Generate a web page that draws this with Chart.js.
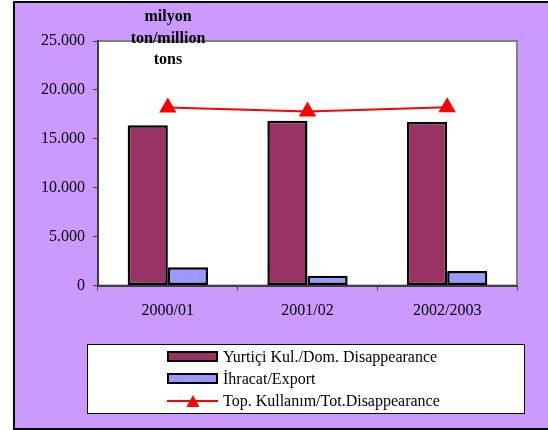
<!DOCTYPE html>
<html>
<head>
<meta charset="utf-8">
<script src="https://cdn.jsdelivr.net/npm/chart.js@4"></script>
<style>
  html, body { margin: 0; background: #fff; overflow: hidden; }
  canvas { display: block; }
</style>
</head>
<body>
<canvas id="myChart" width="548" height="430"></canvas>
<script>
  const labels = ['2000/01', '2001/02', '2002/2003'];
  const domestic = [16380, 16850, 16720];
  const exports = [1860, 1000, 1480];
  const total = [18200, 17800, 18220];
  const seriesNames = [
    'Yurtiçi Kul./Dom. Disappearance',
    'İhracat/Export',
    'Top. Kullanım/Tot.Disappearance'
  ];
  const titleLines = ['milyon', 'ton/million', 'tons'];
  const yTicks = [0, 5000, 10000, 15000, 20000, 25000];

  const FONT = "'Liberation Serif', 'Times New Roman', serif";

  // background, outer frame and plot area frame
  const frame = {
    id: 'frame',
    beforeDraw(chart) {
      const ctx = chart.ctx, a = chart.chartArea;
      ctx.save();
      ctx.fillStyle = '#fff';
      ctx.fillRect(0, 0, chart.width, chart.height);
      ctx.fillStyle = '#CC99FF';
      ctx.fillRect(14, 2, 560, 427);
      ctx.strokeStyle = '#000';
      ctx.lineWidth = 2;
      ctx.strokeRect(14, 2, 560, 427);
      ctx.fillStyle = '#fff';
      ctx.fillRect(a.left, a.top, a.right - a.left, a.bottom - a.top);
      ctx.strokeStyle = '#808080';
      ctx.lineWidth = 2;
      ctx.strokeRect(a.left, a.top, a.right - a.left, a.bottom - a.top);
      ctx.restore();
    }
  };

  // unit title + boxed legend
  const extras = {
    id: 'extras',
    afterDraw(chart) {
      const ctx = chart.ctx;
      ctx.save();
      ctx.fillStyle = '#000';
      ctx.font = 'bold 16px ' + FONT;
      ctx.textAlign = 'center';
      ctx.textBaseline = 'middle';
      titleLines.forEach((t, i) => ctx.fillText(t, 168, 17 + i * 21.5));

      // legend box
      ctx.fillStyle = '#fff';
      ctx.fillRect(87.5, 344.5, 437, 69);
      ctx.strokeStyle = '#000';
      ctx.lineWidth = 1;
      ctx.strokeRect(87.5, 344.5, 437, 69);

      const ds = chart.data.datasets;
      const rows = [356.5, 378.5, 401];
      ctx.font = '16px ' + FONT;
      ctx.textAlign = 'left';
      ds.forEach((d, i) => {
        const y = rows[i];
        if (d.type === 'line') {
          ctx.strokeStyle = d.borderColor;
          ctx.lineWidth = 2;
          ctx.beginPath();
          ctx.moveTo(167, y);
          ctx.lineTo(218, y);
          ctx.stroke();
          ctx.fillStyle = d.borderColor;
          ctx.beginPath();
          ctx.moveTo(193, y - 6);
          ctx.lineTo(199.5, y + 6);
          ctx.lineTo(186.5, y + 6);
          ctx.closePath();
          ctx.fill();
        } else {
          ctx.fillStyle = d.backgroundColor;
          ctx.fillRect(167, y - 5.5, 51, 11);
          ctx.strokeStyle = '#000';
          ctx.lineWidth = 2;
          ctx.strokeRect(168, y - 4.5, 49, 9);
        }
        ctx.fillStyle = '#000';
        ctx.fillText(d.label, 223, y + 1);
      });
      ctx.restore();
    }
  };

  const data = {
    labels: labels,
    datasets: [
      {
        label: seriesNames[0],
        data: domestic,
        backgroundColor: '#993366',
        borderColor: '#000',
        borderWidth: 2.5,
        borderSkipped: false,
        categoryPercentage: 0.575,
        barPercentage: 1,
        order: 1
      },
      {
        label: seriesNames[1],
        data: exports,
        backgroundColor: '#9999FF',
        borderColor: '#000',
        borderWidth: 2.5,
        borderSkipped: false,
        categoryPercentage: 0.575,
        barPercentage: 1,
        order: 1
      },
      {
        type: 'line',
        label: seriesNames[2],
        data: total,
        borderColor: '#FF0000',
        backgroundColor: '#FF0000',
        borderWidth: 2,
        pointStyle: 'triangle',
        pointRadius: 10,
        pointBorderWidth: 0,
        fill: false,
        tension: 0,
        order: 0
      }
    ]
  };

  const config = {
    type: 'bar',
    data: data,
    plugins: [frame, extras],
    options: {
      responsive: false,
      animation: false,
      layout: {
        padding: { left: 18, top: 41, right: 31, bottom: 104.5 }
      },
      plugins: {
        legend: { display: false },
        tooltip: { enabled: false }
      },
      scales: {
        x: {
          afterFit: s => { s.height = 40; },
          grid: {
            offset: true,
            drawOnChartArea: false,
            tickLength: 5,
            tickColor: '#404040'
          },
          border: { color: '#404040', width: 2 },
          ticks: {
            color: '#000',
            padding: 11,
            font: { family: FONT, size: 16 }
          }
        },
        y: {
          min: 0,
          max: 25000,
          afterFit: s => { s.width = 80; },
          afterBuildTicks: s => { s.ticks = yTicks.map(v => ({ value: v })); },
          grid: {
            drawOnChartArea: false,
            tickLength: 5,
            tickColor: '#404040'
          },
          border: { color: '#404040', width: 2 },
          ticks: {
            color: '#000',
            padding: 8,
            font: { family: FONT, size: 16 },
            callback: v => String(v).replace(/\B(?=(\d{3})+(?!\d))/g, '.')
          }
        }
      }
    }
  };

  const myChart = new Chart(document.getElementById('myChart'), config);
</script>
</body>
</html>
